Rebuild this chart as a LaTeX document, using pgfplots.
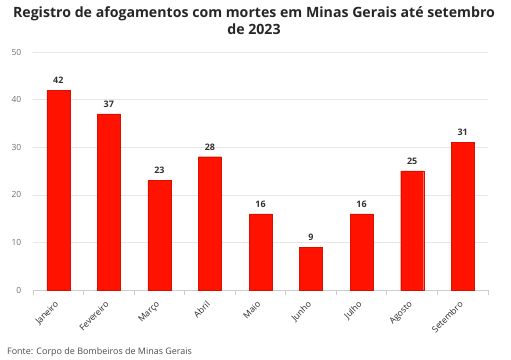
\documentclass[border=0pt]{standalone}
\usepackage{pgfplots}
\pgfplotsset{compat=1.18}
\usepackage{fontspec}
\setmainfont{Open Sans}
\definecolor{barred}{RGB}{255,18,0}
\definecolor{ticktxt}{RGB}{110,110,110}
\definecolor{gridc}{RGB}{230,230,230}
\definecolor{axisc}{RGB}{204,204,204}
\begin{document}
\begin{tikzpicture}
\useasboundingbox (0,0) rectangle (511bp,360bp);
\begin{axis}[
  at={(33bp,70bp)}, anchor=south west,
  scale only axis, width=455bp, height=238bp,
  xmin=-0.5, xmax=8.5, ymin=0, ymax=50,
  ytick={0,10,...,50},
  xtick={0,...,8},
  xticklabels={Janeiro,Fevereiro,Março,Abril,Maio,Junho,Julho,Agosto,Setembro},
  minor xtick={-0.5,0.5,...,8.5},
  axis x line*=bottom,
  axis y line*=left,
  axis line style={draw=none},
  ymajorgrids, grid style={gridc, line width=0.6pt},
  major x tick style={draw=none},
  minor x tick style={axisc, line width=0.8pt},
  minor tick length=5bp,
  tick align=outside,
  xticklabel style={rotate=45, anchor=north east, font=\fontsize{8.7}{10}\selectfont, text=black!85, inner sep=0bp, yshift=-1.5bp, xshift=-7bp},
  yticklabel style={font=\fontsize{8.5}{10}\selectfont, text=ticktxt, xshift=-4bp},
  /pgf/number format/assume math mode=true,
  ytick style={draw=none},
  ybar, bar width=23bp,
  nodes near coords,
  every node near coord/.append style={font=\bfseries\fontsize{9}{10}\selectfont, text=black!80, yshift=3bp},
  clip=false,
]
\draw[axisc, line width=0.8pt] (axis cs:-0.5,0) -- (axis cs:8.5,0);
\addplot[fill=barred, draw=barred!85!black, line width=0.3pt] coordinates {
 (0,42) (1,37) (2,23) (3,28) (4,16) (5,9) (6,16) (7,25) (8,31)
};
\end{axis}
\node[anchor=center, align=center, font=\bfseries\fontsize{14.2}{17}\selectfont, text=black!85] at (254bp,339bp) {Registro de afogamentos com mortes em Minas Gerais até setembro\\de 2023};
\node[anchor=west, font=\fontsize{9}{10}\selectfont, text=black!70, inner sep=0pt] at (7bp,8bp) {Fonte: Corpo de Bombeiros de Minas Gerais};
\end{tikzpicture}
\end{document}
